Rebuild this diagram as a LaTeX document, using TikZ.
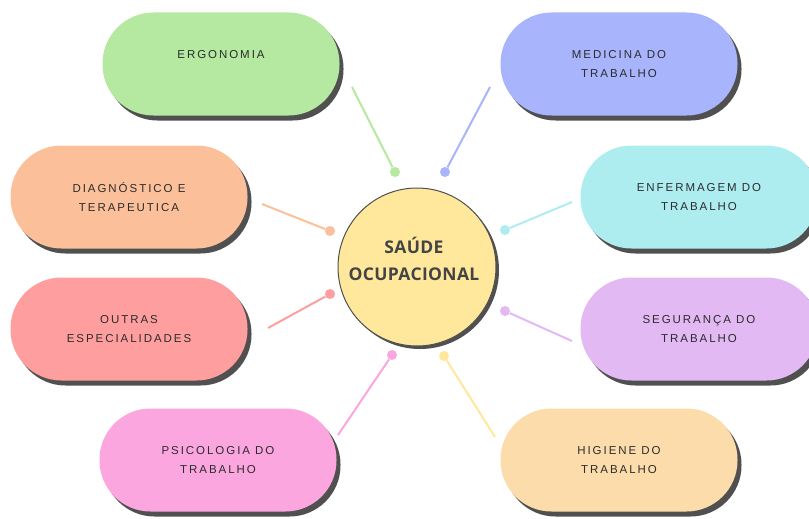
\documentclass[tikz,border=0pt]{standalone}
\usepackage{fontspec}
\setmainfont{Liberation Sans}
\newfontfamily\pillfont{Liberation Sans}[LetterSpace=17]
\newfontfamily\hubfont{Open Sans}[LetterSpace=2]
\usetikzlibrary{shapes,arrows,shadows}

\definecolor{ergo}{HTML}{B5E8A0}
\definecolor{medi}{HTML}{A8B4FC}
\definecolor{diag}{HTML}{FBC09A}
\definecolor{enfe}{HTML}{ADEDF0}
\definecolor{outr}{HTML}{FF9E9E}
\definecolor{segu}{HTML}{E2B9F3}
\definecolor{psic}{HTML}{FBA6DF}
\definecolor{higi}{HTML}{FDDCAB}
\definecolor{hubfill}{HTML}{FFE89B}
\definecolor{ink}{HTML}{2C2C2C}
\definecolor{hubink}{HTML}{444444}
\definecolor{shade}{HTML}{505050}

\begin{document}
\begin{tikzpicture}[x=1pt, y=-1pt]

    % Define block styles
    \tikzstyle{pill} = [rectangle, rounded corners=51pt, minimum width=237pt,
        minimum height=103pt, align=center, text=ink,
        font=\pillfont\fontsize{11.5}{18.5}\selectfont,
        drop shadow={shadow xshift=4pt, shadow yshift=-5pt, fill=shade, opacity=1}]
    \tikzstyle{hub} = [circle, draw=shade, line width=1pt, fill=hubfill,
        minimum size=158pt,
        drop shadow={shadow xshift=3pt, shadow yshift=-3pt, fill=shade, opacity=1}]
    \tikzstyle{hubtext} = [align=center, text=hubink,
        font=\hubfont\bfseries\fontsize{17.5}{27}\selectfont]
    \tikzstyle{dot} = [circle, fill, inner sep=0pt, minimum size=10pt]
    \tikzstyle{line} = [draw, line width=2pt]

    \useasboundingbox (0,0) rectangle (809,519);

    % Place nodes
    \node [pill, fill=ergo] (ergo) at (221,64) {ERGONOMIA\\[-6pt]\strut};
    \node [pill, fill=medi] (medi) at (619,64) {MEDICINA DO\\TRABALHO};
    \node [pill, fill=diag] (diag) at (129,197) {DIAGNÓSTICO E\\TERAPEUTICA};
    \node [pill, fill=enfe] (enfe) at (699,197) {ENFERMAGEM DO\\TRABALHO};
    \node [pill, fill=outr] (outr) at (129,329) {OUTRAS\\ESPECIALIDADES};
    \node [pill, fill=segu] (segu) at (699,329) {SEGURANÇA DO\\TRABALHO};
    \node [pill, fill=psic] (psic) at (218,460) {PSICOLOGIA DO\\TRABALHO};
    \node [pill, fill=higi] (higi) at (619,460) {HIGIENE DO\\TRABALHO};

    \node [hub] (hub) at (417,267) {};
    \node [hubtext] (title) at ([xshift=-3pt, yshift=8pt]hub.center) {SAÚDE\\OCUPACIONAL};

    % Connector dots
    \node [dot, ergo] (d-ergo) at (395,172) {};
    \node [dot, medi] (d-medi) at (445,172) {};
    \node [dot, diag] (d-diag) at (330,231) {};
    \node [dot, enfe] (d-enfe) at (505,230) {};
    \node [dot, outr] (d-outr) at (330,294) {};
    \node [dot, segu] (d-segu) at (505,311) {};
    \node [dot, psic] (d-psic) at (392,355) {};
    \node [dot, hubfill] (d-higi) at (444,356) {};

    \coordinate (e-ergo) at (352,87);
    \coordinate (e-medi) at (490,87);
    \coordinate (e-diag) at (262,204);
    \coordinate (e-enfe) at (572,202);
    \coordinate (e-outr) at (268,328);
    \coordinate (e-segu) at (572,341);
    \coordinate (e-psic) at (338,435);
    \coordinate (e-higi) at (495,437);

    % Draw edges
    \path [line, ergo] (e-ergo) -- (d-ergo);
    \path [line, medi] (e-medi) -- (d-medi);
    \path [line, diag] (e-diag) -- (d-diag);
    \path [line, enfe] (e-enfe) -- (d-enfe);
    \path [line, outr] (e-outr) -- (d-outr);
    \path [line, segu] (e-segu) -- (d-segu);
    \path [line, psic] (e-psic) -- (d-psic);
    \path [line, hubfill] (e-higi) -- (d-higi);

\end{tikzpicture}
\end{document}
